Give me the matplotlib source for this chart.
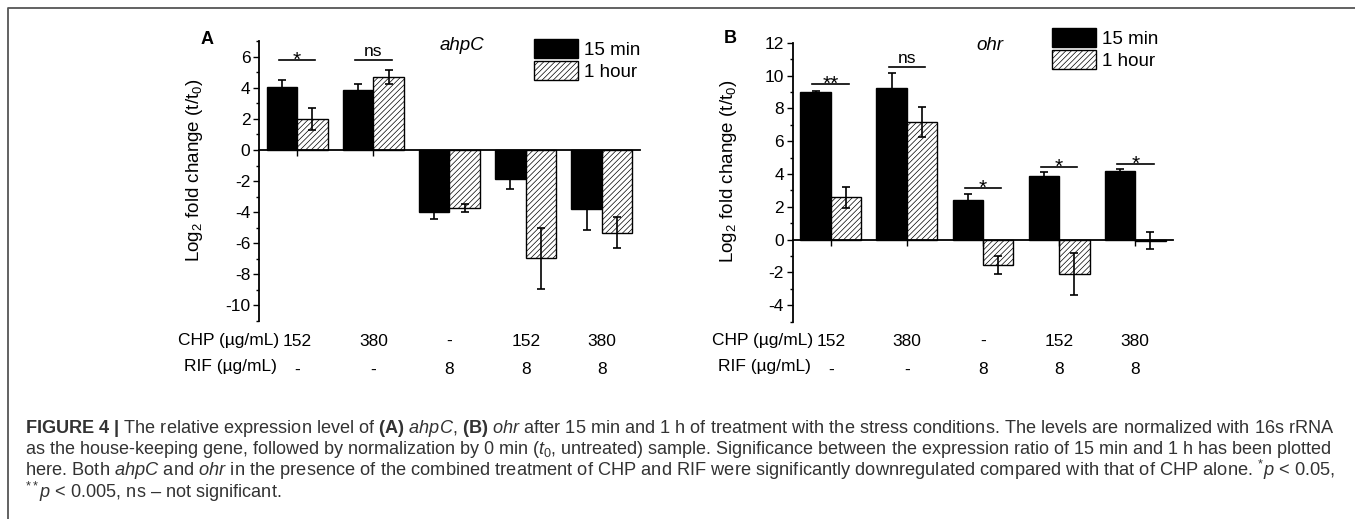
import matplotlib
matplotlib.use("Agg")
import matplotlib.pyplot as plt
import numpy as np
from matplotlib.patches import Patch
from matplotlib.lines import Line2D
from matplotlib.ticker import MultipleLocator
from matplotlib import transforms

plt.rcParams['font.family'] = ['Liberation Sans', 'DejaVu Sans']
plt.rcParams['mathtext.fontset'] = 'custom'
plt.rcParams['mathtext.rm'] = 'Liberation Sans'
plt.rcParams['mathtext.it'] = 'Liberation Sans:italic'
plt.rcParams['mathtext.bf'] = 'Liberation Sans:bold'
plt.rcParams['hatch.linewidth'] = 0.5
plt.rcParams['axes.unicode_minus'] = False

## data
groups = np.array([1, 2, 3, 4, 5])
chp = ['152', '380', '-', '152', '380']
rif = ['-', '-', '8', '8', '8']

ahpc_15 = [4.05, 3.84, -4.0, -1.88, -3.8]
ahpc_15_err = [0.48, 0.41, 0.43, 0.65, 1.38]
ahpc_1h = [1.99, 4.69, -3.74, -6.98, -5.33]
ahpc_1h_err = [0.7, 0.47, 0.28, 1.98, 1.0]
ahpc_sig_groups = [1, 2]
ahpc_sig_text = ['*', 'ns']
ahpc_sig_y = [5.8, 5.8]

ohr_15 = [8.99, 9.25, 2.44, 3.87, 4.2]
ohr_15_err = [0.05, 0.88, 0.35, 0.27, 0.1]
ohr_1h = [2.57, 7.17, -1.55, -2.1, -0.08]
ohr_1h_err = [0.64, 0.9, 0.53, 1.28, 0.52]
ohr_sig_groups = [1, 2, 3, 4, 5]
ohr_sig_text = ['**', 'ns', '*', '*', '*']
ohr_sig_y = [9.47, 10.53, 3.14, 4.42, 4.58]

caption = [
    r"$\mathbf{FIGURE\ 4\ |}$ The relative expression level of $\mathbf{(A)}$ $\mathit{ahpC}$, $\mathbf{(B)}$ $\mathit{ohr}$ after 15 min and 1 h of treatment with the stress conditions. The levels are normalized with 16s rRNA",
    r"as the house-keeping gene, followed by normalization by 0 min ($t_0$, untreated) sample. Significance between the expression ratio of 15 min and 1 h has been plotted",
    r"here. Both $\mathit{ahpC}$ and $\mathit{ohr}$ in the presence of the combined treatment of CHP and RIF were significantly downregulated compared with that of CHP alone. $^{*}p$ < 0.05,",
    r"$^{**}p$ < 0.005, ns – not significant.",
]

W, H = 1355, 519
fig = plt.figure(figsize=(W / 100, H / 100), dpi=100)


def fx(px):
    return px / W


def fy(py):
    return 1 - py / H


def panel(box, v15, e15, v1h, e1h, ylim, sig_g, sig_t, sig_y, gene, letter,
          letter_xy, gene_xy, leg_xy, row_right):
    left, top, right, bottom = box
    ax = fig.add_axes([fx(left), fy(bottom), fx(right) - fx(left), fy(top) - fy(bottom)])
    w = 0.4
    ekw = dict(ecolor='black', elinewidth=1.2, capsize=2.8, capthick=1.2)
    ax.bar(groups - w / 2, v15, w, color='black', edgecolor='black', linewidth=1,
           yerr=e15, error_kw=ekw)
    ax.bar(groups + w / 2, v1h, w, color='white', edgecolor='black', linewidth=1,
           hatch='//////', yerr=e1h, error_kw=ekw)

    ax.set_xlim(0.5, 5.5)
    ax.set_ylim(*ylim)
    for s in ['top', 'right']:
        ax.spines[s].set_visible(False)
    ax.spines['bottom'].set_position(('data', 0))
    ax.spines['left'].set_linewidth(1.3)
    ax.spines['bottom'].set_linewidth(1.3)
    ax.set_xticks(groups)
    ax.set_xticklabels([])
    ax.tick_params(axis='x', direction='out', length=4.3, width=1)
    ax.yaxis.set_major_locator(MultipleLocator(2))
    ax.yaxis.set_minor_locator(MultipleLocator(1))
    ax.tick_params(axis='y', which='major', direction='out', length=4.3, width=1,
                   labelsize=12.5, pad=2)
    ax.tick_params(axis='y', which='minor', direction='out', length=2.4, width=1)
    ax.set_ylabel(r"Log$_2$ fold change (t/t$_0$)", fontsize=13.5)
    ax.yaxis.set_label_coords(-0.142, 0.538)

    # significance bars
    for g, t, y in zip(sig_g, sig_t, sig_y):
        ax.plot([g - 0.24, g + 0.24], [y, y], color='black', lw=1.2, clip_on=False)
        if t == 'ns':
            ax.annotate(t, (g, y), xytext=(0, 3), textcoords='offset points',
                        ha='center', va='baseline', fontsize=12.5, annotation_clip=False)
        else:
            ax.annotate(t, (g, y), xytext=(0, -4), textcoords='offset points',
                        ha='center', va='baseline', fontsize=15, annotation_clip=False)

    # treatment rows under the axis
    tr = transforms.blended_transform_factory(ax.transData, fig.transFigure)
    for g, c, r in zip(groups, chp, rif):
        ax.text(g, fy(341), c, transform=tr, ha='center', va='center', fontsize=12.5)
        ax.text(g, fy(370), r, transform=tr, ha='center', va='center', fontsize=12.5)
    fig.text(fx(row_right), fy(340), "CHP (µg/mL)", ha='right', va='center', fontsize=12.5)
    fig.text(fx(row_right - 2), fy(367), "RIF (µg/mL)", ha='right', va='center', fontsize=12.5)

    fig.text(fx(letter_xy[0]), fy(letter_xy[1]), letter, ha='center', va='center',
             fontsize=13, fontweight='bold')
    fig.text(fx(gene_xy[0]), fy(gene_xy[1]), gene, ha='center', va='center',
             fontsize=13.5, style='italic')

    handles = [Patch(facecolor='black', edgecolor='black', linewidth=1),
               Patch(facecolor='white', edgecolor='black', linewidth=1, hatch='//////')]
    fig.legend(handles, ['15 min', '1 hour'], loc='upper left',
               bbox_to_anchor=(fx(leg_xy[0]), fy(leg_xy[1])), bbox_transform=fig.transFigure,
               frameon=False, fontsize=13.5, handlelength=2.35, handleheight=1.15,
               handletextpad=0.3, labelspacing=0.12, borderpad=0, borderaxespad=0)
    return ax


panel((259, 41.3, 640, 320.8), ahpc_15, ahpc_15_err, ahpc_1h, ahpc_1h_err, (-11, 7),
      ahpc_sig_groups, ahpc_sig_text, ahpc_sig_y, 'ahpC', 'A',
      (206.7, 39.3), (461.7, 46), (534.3, 39.3), 279)
panel((792.7, 42.7, 1173.3, 321.7), ohr_15, ohr_15_err, ohr_1h, ohr_1h_err, (-5, 12),
      ohr_sig_groups, ohr_sig_text, ohr_sig_y, 'ohr', 'B',
      (730, 38.3), (990, 46), (1052.3, 28.3), 813)

# caption: full lines are stretched to the text width, as in the justified original
cap_size = 11
baselines = [433, 454.5, 476, 497.5]
texts = [fig.text(fx(25), fy(b), line, ha='left', va='baseline', fontsize=cap_size,
                  color='#333333') for line, b in zip(caption, baselines)]
for it in range(3):
    fig.canvas.draw()
    r = fig.canvas.get_renderer()
    sizes = []
    for t in texts[:3]:
        sizes.append(t.get_fontsize() * 1313 / t.get_window_extent(r).width)
    for t, s in zip(texts, sizes + [float(np.median(sizes))]):
        t.set_fontsize(s)

# frame around the figure
fig.add_artist(Line2D([fx(8), fx(8), 1], [0, fy(8), fy(8)], transform=fig.transFigure,
                      color='#555555', lw=1.3))

fig.savefig('out.png', dpi=100)
